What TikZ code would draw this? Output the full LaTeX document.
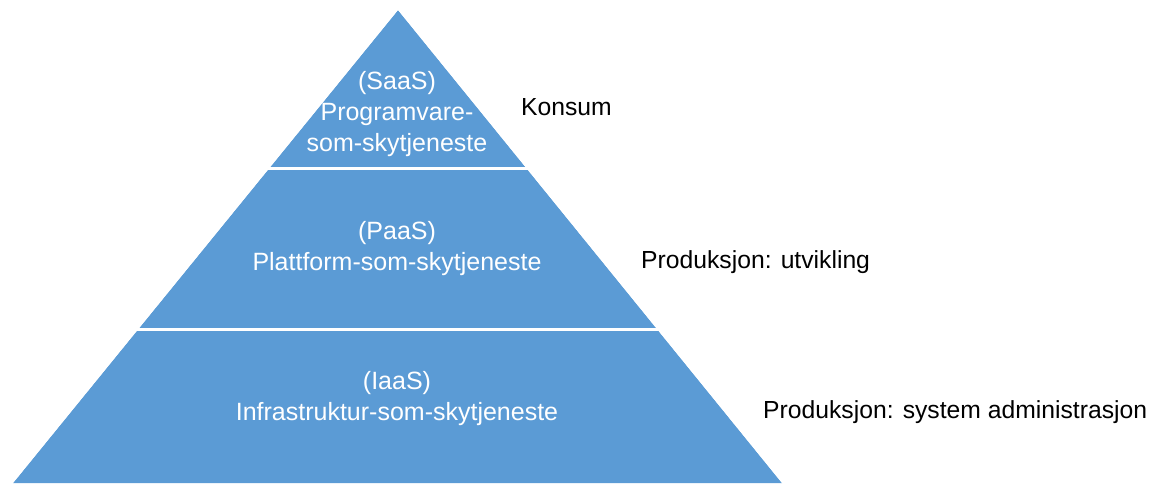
\documentclass[tikz,border=0pt]{standalone}
\usepackage{fontspec}
\setmainfont{Liberation Sans}
\definecolor{pyrblue}{HTML}{5B9BD5}
\tikzset{
  layertext/.style={text=white, align=center, font=\fontsize{25}{31}\selectfont, inner sep=0pt},
  sidelabel/.style={text=black, anchor=west, font=\fontsize{24.7}{30}\selectfont, inner sep=0pt},
  gapline/.style={draw=white, line width=3.3pt}
}
\begin{document}
\begin{tikzpicture}[x=1pt,y=-1pt]
\useasboundingbox (0,0) rectangle (1150,483);
\coordinate (apex) at (398,10);
\coordinate (bl) at (13,483);
\coordinate (br) at (782,483);
\fill[pyrblue] (apex) -- (br) -- (bl) -- cycle;
\coordinate (g1l) at (250,168.4);
\coordinate (g1r) at (550,168.4);
\coordinate (g2l) at (100,329.4);
\coordinate (g2r) at (700,329.4);
\draw[gapline] (g1l) -- (g1r);
\draw[gapline] (g2l) -- (g2r);
\fill[white] (apex) -- (bl) -- (0,483) -- (0,0) -- (1150,0) -- (1150,483) -- (br) -- cycle;
\node[layertext] (saas) at (397,114) {(SaaS)\\Programvare-\\som-skytjeneste};
\node[layertext] (paas) at (397,249) {(PaaS)\\Plattform-som-skytjeneste};
\node[layertext] (iaas) at (397,399) {(IaaS)\\Infrastruktur-som-skytjeneste};
\node[sidelabel] (konsum) at (521,107) {Konsum};
\node[sidelabel] (utv) at (641,262) {Produksjon: utvikling};
\node[sidelabel] (sys) at (763,412) {Produksjon: system administrasjon};
\end{tikzpicture}
\end{document}
